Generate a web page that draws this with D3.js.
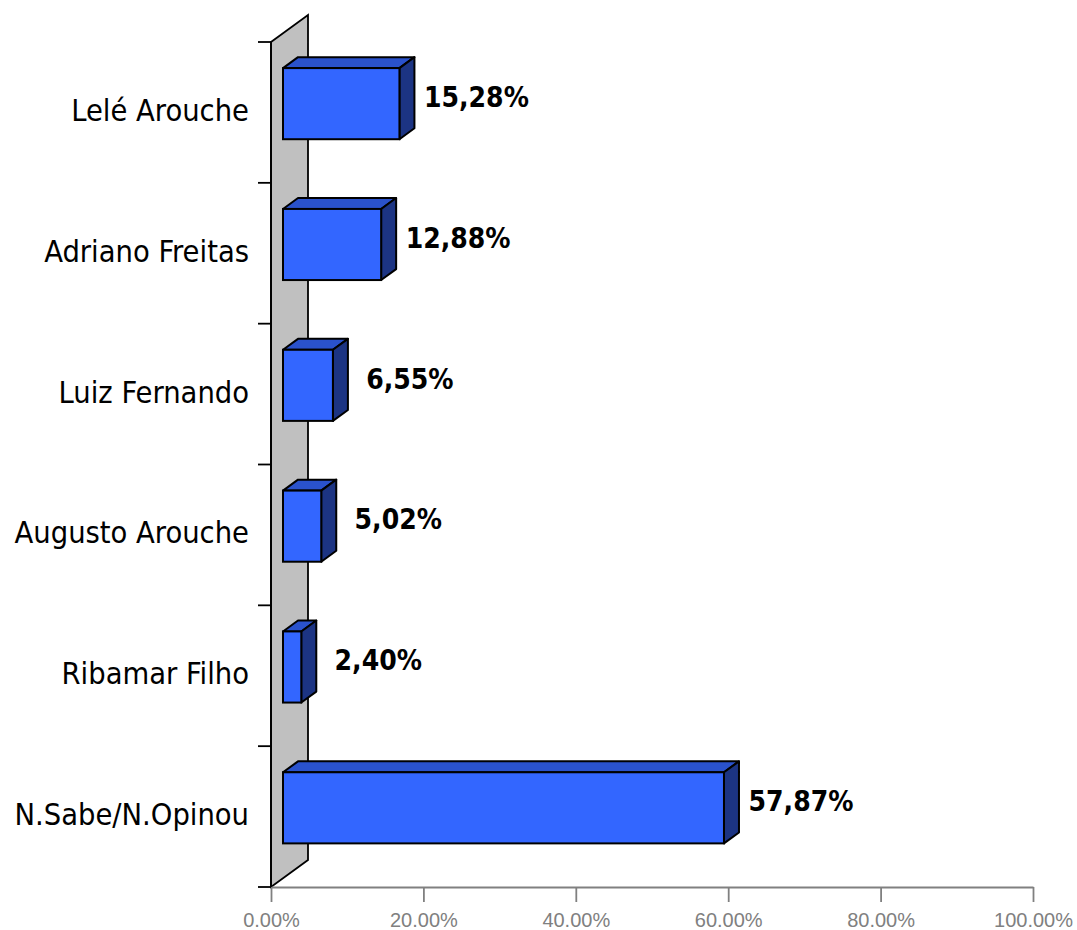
<!DOCTYPE html>
<html>
<head>
<meta charset="utf-8">
<script src="https://cdn.jsdelivr.net/npm/d3@7"></script>
<style>
  html, body { margin: 0; padding: 0; background: #fff; }
  svg { display: block; }
</style>
</head>
<body>
<svg id="chart" width="1077" height="930"></svg>
<script>
const categories = ["Lelé Arouche", "Adriano Freitas", "Luiz Fernando", "Augusto Arouche", "Ribamar Filho", "N.Sabe/N.Opinou"];
const values = [15.28, 12.88, 6.55, 5.02, 2.40, 57.87];
const valueLabels = ["15,28%", "12,88%", "6,55%", "5,02%", "2,40%", "57,87%"];
const tickValues = [0, 20, 40, 60, 80, 100];
const tickLabels = ["0.00%", "20.00%", "40.00%", "60.00%", "80.00%", "100.00%"];

(function () {
const svg = d3.select("#chart");

// plot geometry
const pLeft = 271, pRight = 1033, pTop = 42, pBottom = 887;
const depthX = 37, depthY = -27;          // wall depth projection
const f0 = 12 / 37, f1 = 27 / 37;          // bar depth (front / back) fraction

const x = d3.scaleLinear().domain([0, 100]).range([pLeft, pRight]);
const y = d3.scaleBand().domain(categories).range([pTop, pBottom]).paddingInner(0).paddingOuter(0);
const barH = y.step() * 0.505;

const catFont = "'DejaVu Sans Condensed', 'DejaVu Sans', sans-serif";

// back wall
svg.append("polygon")
  .attr("points", [
    [pLeft, pTop], [pLeft + depthX, pTop + depthY],
    [pLeft + depthX, pBottom + depthY], [pLeft, pBottom]
  ].map(p => p.join(",")).join(" "))
  .attr("fill", "#c0c0c0")
  .attr("stroke", "#000")
  .attr("stroke-width", 1.8)
  .attr("stroke-linejoin", "miter");

// bottom axis (gray)
const xAxis = d3.axisBottom(x)
  .tickValues(tickValues)
  .tickFormat((d, i) => tickLabels[i])
  .tickSize(15)
  .tickSizeOuter(0)
  .tickPadding(11);
const gx = svg.append("g").attr("transform", `translate(0,${pBottom})`).call(xAxis);
gx.select(".domain").attr("stroke", "#808080").attr("stroke-width", 1.8);
gx.selectAll(".tick line").attr("stroke", "#808080").attr("stroke-width", 1.8);
gx.selectAll(".tick text")
  .attr("fill", "#808080")
  .attr("font-family", "'Liberation Sans', Arial, sans-serif")
  .attr("font-size", 20);

// left axis (black) with ticks at band boundaries
const boundaries = d3.range(categories.length + 1).map(i => pTop + i * y.step());
svg.append("g").selectAll("line").data(boundaries).join("line")
  .attr("x1", pLeft - 13).attr("x2", pLeft)
  .attr("y1", d => d).attr("y2", d => d)
  .attr("stroke", "#000").attr("stroke-width", 1.8);
svg.append("line")
  .attr("x1", pLeft).attr("x2", pLeft).attr("y1", pTop).attr("y2", pBottom)
  .attr("stroke", "#000").attr("stroke-width", 1.8);

// category labels
svg.append("g").selectAll("text").data(categories).join("text")
  .attr("x", 249)
  .attr("y", d => y(d) + y.step() / 2 - 2)
  .attr("text-anchor", "end")
  .attr("dominant-baseline", "central")
  .attr("font-family", catFont)
  .attr("font-size", 30.5)
  .attr("fill", "#000")
  .text(d => d);

// bars
const ox = depthX * f0, oy = depthY * f0;
const bdx = depthX * (f1 - f0), bdy = depthY * (f1 - f0);
const data = categories.map((c, i) => ({ c, v: values[i], label: valueLabels[i] }));

const bars = svg.append("g").selectAll("g").data(data).join("g");
bars.each(function (d) {
  const g = d3.select(this);
  const x0 = x(0) + ox, x1 = x(d.v) + ox;
  const yc = y(d.c) + y.step() / 2 + oy;
  const y0 = yc - barH / 2, y1 = yc + barH / 2;
  const pts = a => a.map(p => p.join(",")).join(" ");
  // top face
  g.append("polygon")
    .attr("points", pts([[x0, y0], [x0 + bdx, y0 + bdy], [x1 + bdx, y0 + bdy], [x1, y0]]))
    .attr("fill", "#2a52cc").attr("stroke", "#000").attr("stroke-width", 2).attr("stroke-linejoin", "round");
  // side face
  g.append("polygon")
    .attr("points", pts([[x1, y0], [x1 + bdx, y0 + bdy], [x1 + bdx, y1 + bdy], [x1, y1]]))
    .attr("fill", "#1c3483").attr("stroke", "#000").attr("stroke-width", 2).attr("stroke-linejoin", "round");
  // front face
  g.append("rect")
    .attr("x", x0).attr("y", y0)
    .attr("width", x1 - x0).attr("height", y1 - y0)
    .attr("fill", "#3366ff").attr("stroke", "#000").attr("stroke-width", 2);
  // value label
  g.append("text")
    .attr("x", x1 + 77)
    .attr("y", y(d.c) + y.step() / 2 - 15)
    .attr("text-anchor", "middle")
    .attr("dominant-baseline", "central")
    .attr("font-family", catFont)
    .attr("font-weight", "bold")
    .attr("font-size", 28)
    .attr("fill", "#000")
    .text(d.label);
});
})();
</script>
</body>
</html>
